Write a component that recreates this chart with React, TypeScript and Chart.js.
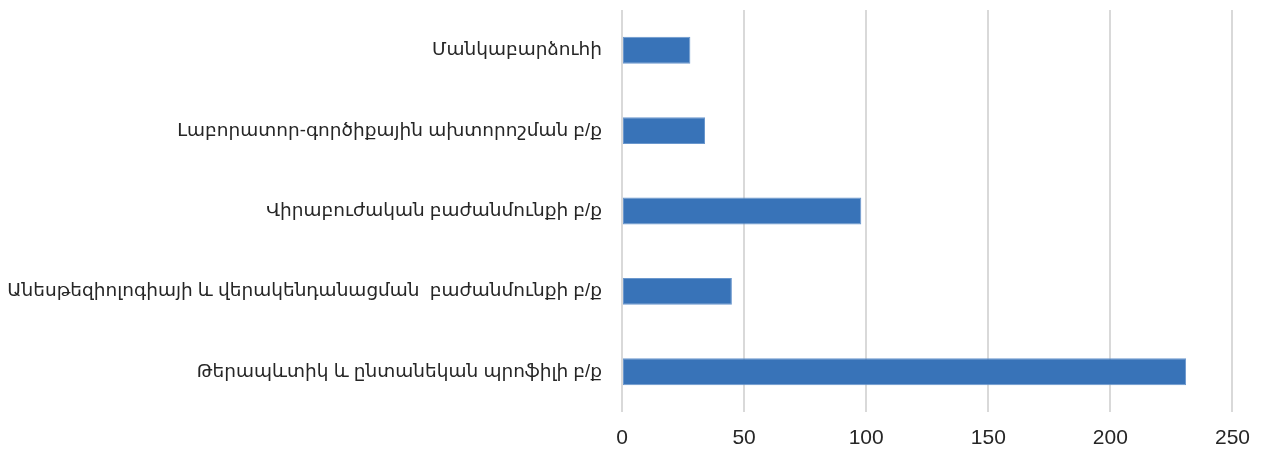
import React, { useEffect, useRef } from "react";
import { Chart, registerables } from "chart.js";

Chart.register(...registerables);

// Staff counts by department (top to bottom)
const categories: string[] = [
  "Մանկաբարձուհի",
  "Լաբորատոր-գործիքային ախտորոշման բ/ք",
  "Վիրաբուժական բաժանմունքի բ/ք",
  "Անեսթեզիոլոգիայի և վերակենդանացման  բաժանմունքի բ/ք",
  "Թերապևտիկ և ընտանեկան պրոֆիլի բ/ք",
];
const values: number[] = [28, 34, 98, 45, 231];
const axisMax = 250;
const axisStep = 50;

export default function App() {
  const canvasRef = useRef<HTMLCanvasElement | null>(null);

  useEffect(() => {
    if (!canvasRef.current) return;
    const fontFamily = "'Liberation Sans', Arial, 'DejaVu Sans', sans-serif";
    const chart = new Chart(canvasRef.current, {
      type: "bar",
      data: {
        labels: categories,
        datasets: [
          {
            data: values,
            backgroundColor: "#3873b8",
            borderColor: "#6a97cd",
            borderWidth: 1,
            borderSkipped: false,
            categoryPercentage: 1,
            barPercentage: 0.335,
          },
        ],
      },
      options: {
        indexAxis: "y",
        animation: false,
        responsive: true,
        maintainAspectRatio: false,
        layout: { padding: { top: 10, right: 29, bottom: 0, left: 0 } },
        plugins: {
          legend: { display: false },
          tooltip: { enabled: false },
        },
        scales: {
          x: {
            min: 0,
            max: axisMax,
            ticks: {
              stepSize: axisStep,
              color: "#262626",
              padding: 14,
              font: { family: fontFamily, size: 21 },
            },
            grid: {
              color: "#d9d9d9",
              lineWidth: 2,
              drawTicks: false,
            },
            border: { display: false },
            afterFit: (scale: any) => {
              scale.height = 40;
            },
          },
          y: {
            ticks: {
              color: "#262626",
              padding: 20,
              font: { family: fontFamily, size: 18.5 },
            },
            grid: { display: false, drawTicks: false },
            border: { display: false },
            afterFit: (scale: any) => {
              scale.width = 622;
              scale.paddingTop = 0;
              scale.paddingBottom = 0;
            },
          },
        },
      },
    });
    return () => chart.destroy();
  }, []);

  return (
    <div style={{ position: "fixed", left: 0, top: 0, width: 1264, height: 452, background: "#fff" }}>
      <canvas ref={canvasRef} />
    </div>
  );
}
